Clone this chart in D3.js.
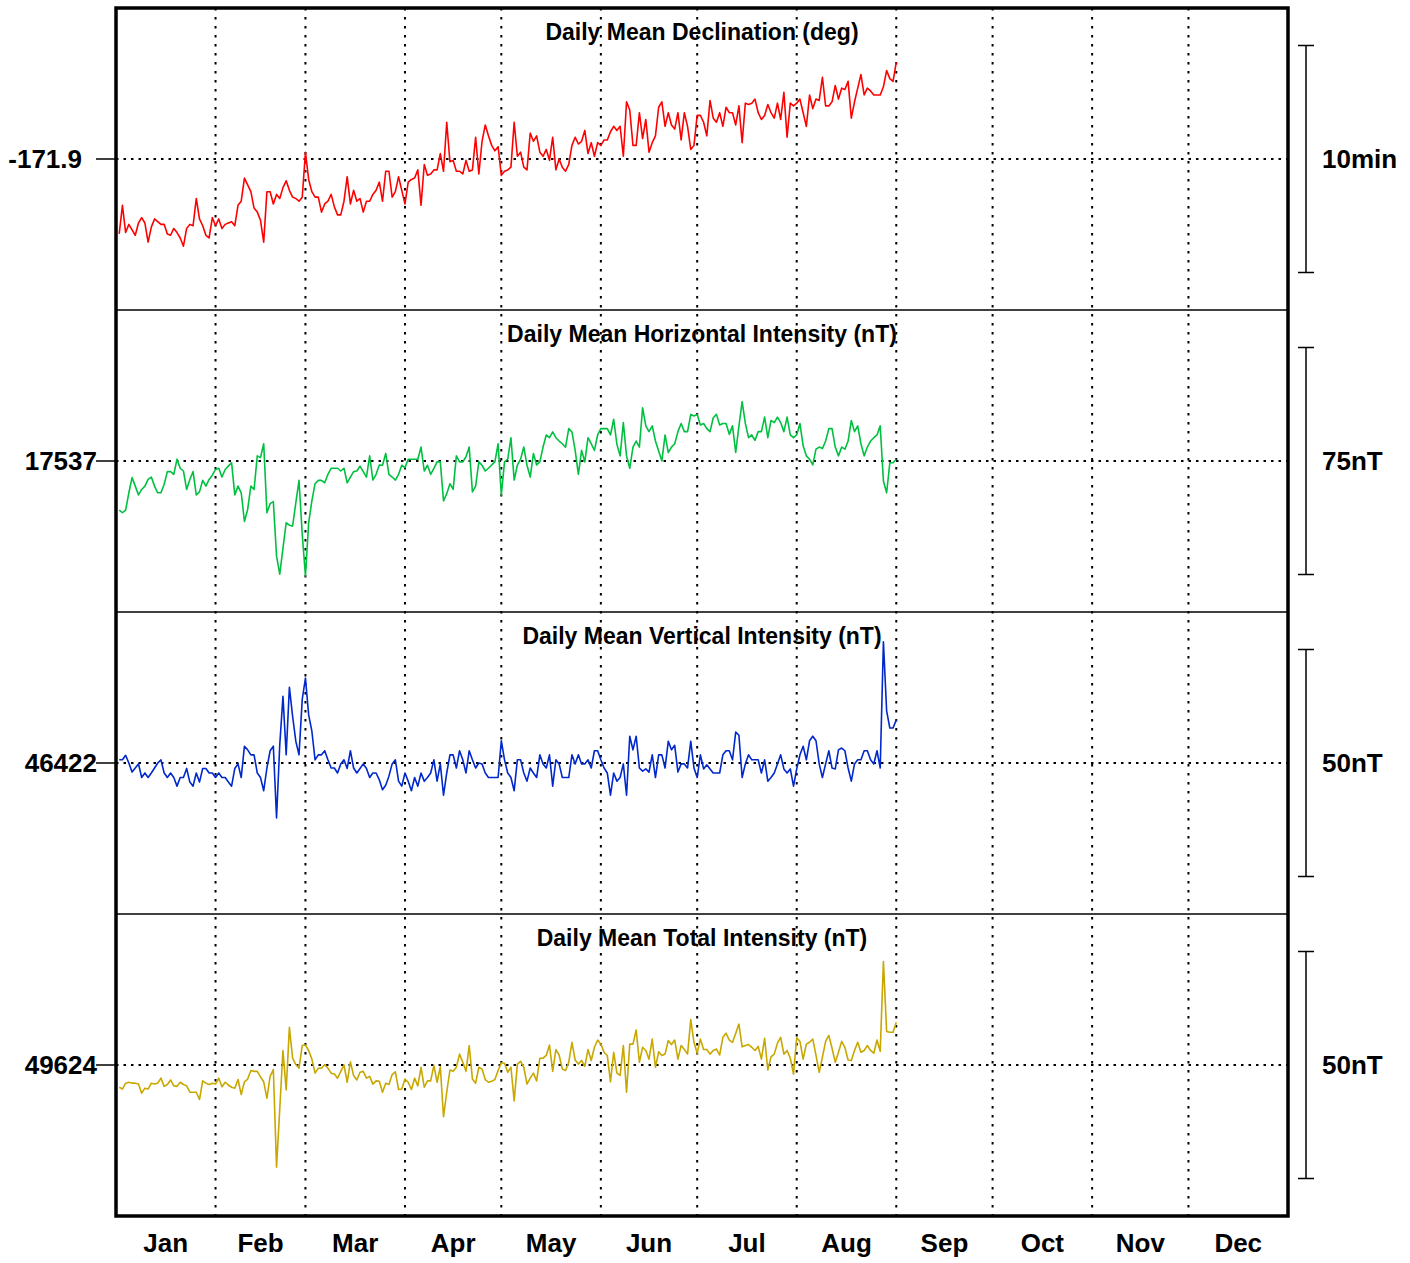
<!DOCTYPE html>
<html>
<head>
<meta charset="utf-8">
<title>Daily mean magnetic field</title>
<script src="https://cdn.jsdelivr.net/npm/d3@7"></script>
<style>
  html, body { margin: 0; padding: 0; background: #fff; }
  svg { display: block; font-family: "Liberation Sans", Arial, sans-serif; font-weight: bold; }
</style>
</head>
<body>
<svg id="chart" width="1410" height="1263"></svg>
<script>
// day of year for each daily mean (Jan 1 .. Aug 31)
const days = d3.range(1, 244);

const monthNames = ["Jan", "Feb", "Mar", "Apr", "May", "Jun", "Jul", "Aug", "Sep", "Oct", "Nov", "Dec"];
const monthStarts = [0, 31, 59, 90, 120, 151, 181, 212, 243, 273, 304, 334, 365];

// declination, degrees
const declination = [
  -171.955, -171.934, -171.954, -171.948, -171.952, -171.956, -171.947, -171.943, -171.947, -171.961,
  -171.950, -171.944, -171.946, -171.948, -171.948, -171.955, -171.956, -171.951, -171.954, -171.958,
  -171.964, -171.951, -171.948, -171.949, -171.929, -171.944, -171.949, -171.956, -171.958, -171.943,
  -171.949, -171.944, -171.951, -171.948, -171.947, -171.946, -171.949, -171.934, -171.931, -171.914,
  -171.919, -171.924, -171.936, -171.939, -171.945, -171.961, -171.924, -171.924, -171.933, -171.926,
  -171.929, -171.921, -171.916, -171.923, -171.928, -171.929, -171.931, -171.928, -171.895, -171.915,
  -171.924, -171.928, -171.928, -171.939, -171.933, -171.931, -171.926, -171.935, -171.941, -171.941,
  -171.931, -171.913, -171.933, -171.923, -171.931, -171.929, -171.939, -171.931, -171.931, -171.926,
  -171.923, -171.917, -171.931, -171.909, -171.909, -171.928, -171.924, -171.913, -171.923, -171.933,
  -171.917, -171.915, -171.914, -171.908, -171.934, -171.904, -171.912, -171.911, -171.908, -171.908,
  -171.896, -171.909, -171.873, -171.902, -171.901, -171.909, -171.909, -171.911, -171.901, -171.909,
  -171.908, -171.884, -171.911, -171.887, -171.875, -171.883, -171.890, -171.894, -171.891, -171.912,
  -171.909, -171.908, -171.906, -171.873, -171.898, -171.895, -171.906, -171.908, -171.881, -171.887,
  -171.883, -171.895, -171.898, -171.893, -171.901, -171.884, -171.908, -171.900, -171.906, -171.909,
  -171.904, -171.890, -171.884, -171.889, -171.887, -171.879, -171.896, -171.888, -171.898, -171.888,
  -171.890, -171.886, -171.886, -171.880, -171.876, -171.879, -171.876, -171.898, -171.858, -171.864,
  -171.890, -171.890, -171.866, -171.885, -171.871, -171.895, -171.888, -171.883, -171.862, -171.858,
  -171.876, -171.866, -171.875, -171.878, -171.866, -171.886, -171.866, -171.876, -171.893, -171.890,
  -171.868, -171.868, -171.873, -171.883, -171.857, -171.870, -171.873, -171.866, -171.876, -171.862,
  -171.866, -171.866, -171.875, -171.861, -171.888, -171.859, -171.860, -171.859, -171.856, -171.866,
  -171.871, -171.868, -171.860, -171.866, -171.870, -171.859, -171.871, -171.851, -171.884, -171.859,
  -171.861, -171.859, -171.856, -171.866, -171.876, -171.853, -171.863, -171.856, -171.857, -171.840,
  -171.861, -171.861, -171.858, -171.846, -171.856, -171.848, -171.849, -171.843, -171.870, -171.858,
  -171.848, -171.838, -171.853, -171.848, -171.850, -171.853, -171.853, -171.853, -171.847, -171.835,
  -171.841, -171.843, -171.829
];

// horizontal intensity, nT
const horizontal = [
  17520.8, 17519.9, 17520.8, 17526.5, 17531.5, 17528.7, 17525.8, 17527.6, 17528.7, 17530.9,
  17531.7, 17528.7, 17526.5, 17526.5, 17529.3, 17533.5, 17533.5, 17532.6, 17537.6, 17534.6,
  17533.7, 17527.6, 17530.9, 17533.5, 17525.8, 17526.8, 17530.6, 17528.7, 17530.9, 17532.3,
  17534.2, 17534.6, 17531.7, 17534.2, 17535.3, 17536.4, 17525.8, 17528.7, 17526.5, 17517.0,
  17521.0, 17528.7, 17527.6, 17538.7, 17538.1, 17542.7, 17519.9, 17522.9, 17523.6, 17505.6,
  17499.6, 17508.2, 17516.6, 17515.8, 17515.5, 17523.2, 17530.6, 17512.8, 17499.0, 17516.6,
  17523.8, 17529.5, 17530.6, 17530.6, 17529.8, 17532.6, 17534.6, 17534.6, 17534.6, 17533.7,
  17534.6, 17529.8, 17531.7, 17533.5, 17533.7, 17535.3, 17533.5, 17531.7, 17538.7, 17530.7,
  17532.6, 17535.7, 17535.6, 17539.5, 17532.6, 17531.7, 17530.7, 17532.6, 17535.6, 17534.8,
  17537.6, 17537.6, 17537.6, 17537.6, 17541.6, 17533.7, 17535.6, 17532.6, 17534.6, 17536.7,
  17536.7, 17523.8, 17526.2, 17529.5, 17527.6, 17538.7, 17536.7, 17536.7, 17538.4, 17541.6,
  17526.8, 17528.7, 17536.7, 17535.6, 17533.7, 17534.6, 17535.7, 17536.7, 17542.7, 17525.8,
  17536.7, 17537.6, 17544.7, 17530.7, 17535.6, 17537.6, 17541.6, 17535.6, 17531.7, 17539.5,
  17535.7, 17536.7, 17541.6, 17545.6, 17544.7, 17546.6, 17544.7, 17543.6, 17542.7, 17541.6,
  17547.7, 17546.6, 17540.5, 17532.6, 17540.5, 17536.7, 17544.7, 17542.7, 17540.5, 17545.6,
  17547.7, 17547.7, 17547.7, 17545.6, 17550.8, 17542.5, 17538.7, 17549.7, 17538.7, 17534.6,
  17541.6, 17543.6, 17541.6, 17554.6, 17548.6, 17546.7, 17548.6, 17543.6, 17540.3, 17537.0,
  17545.6, 17539.8, 17541.6, 17542.7, 17546.7, 17549.4, 17546.7, 17546.7, 17552.4, 17551.9,
  17552.4, 17548.9, 17549.4, 17547.7, 17546.7, 17551.3, 17552.4, 17548.9, 17549.4, 17549.4,
  17545.8, 17548.6, 17539.8, 17548.6, 17556.6, 17549.4, 17544.7, 17545.6, 17543.8, 17546.7,
  17546.7, 17551.5, 17544.7, 17550.4, 17549.7, 17551.5, 17549.7, 17546.7, 17551.5, 17545.6,
  17544.7, 17545.6, 17549.4, 17542.0, 17538.7, 17537.6, 17535.7, 17540.9, 17541.6, 17541.1,
  17543.6, 17547.7, 17547.7, 17541.6, 17538.7, 17541.6, 17540.9, 17543.6, 17550.4, 17546.7,
  17548.6, 17542.7, 17538.7, 17541.6, 17543.6, 17544.7, 17545.6, 17548.6, 17530.4, 17526.5,
  17536.4, 17536.4, 17537.6
];

// vertical intensity, nT
const vertical = [
  46422.7, 46422.7, 46423.7, 46422.0, 46420.0, 46420.9, 46421.8, 46418.8, 46419.8, 46418.8,
  46419.8, 46420.9, 46422.0, 46422.7, 46419.8, 46418.8, 46419.8, 46418.8, 46416.9, 46418.8,
  46418.8, 46420.8, 46417.8, 46416.9, 46419.8, 46417.8, 46420.8, 46420.8, 46419.8, 46419.8,
  46418.8, 46419.8, 46418.8, 46418.8, 46417.8, 46416.9, 46420.8, 46421.8, 46418.8, 46425.7,
  46424.9, 46423.8, 46423.8, 46419.8, 46418.8, 46415.9, 46420.9, 46424.7, 46425.7, 46409.9,
  46426.0, 46436.7, 46423.8, 46438.7, 46432.3, 46426.8, 46423.8, 46436.0, 46440.7, 46432.6,
  46429.0, 46422.7, 46423.8, 46423.8, 46424.7, 46422.7, 46420.9, 46420.9, 46419.8, 46421.8,
  46422.7, 46420.8, 46424.7, 46420.9, 46419.8, 46420.8, 46421.8, 46420.8, 46418.8, 46419.8,
  46419.8, 46418.3, 46416.1, 46417.1, 46419.1, 46421.8, 46422.7, 46418.0, 46416.9, 46419.8,
  46418.0, 46415.9, 46418.8, 46416.9, 46419.8, 46418.0, 46418.8, 46419.8, 46422.7, 46418.0,
  46421.8, 46414.9, 46419.8, 46423.8, 46423.8, 46420.9, 46424.7, 46422.7, 46419.8, 46424.7,
  46422.7, 46420.9, 46422.0, 46421.8, 46419.8, 46418.8, 46418.8, 46418.8, 46418.8, 46426.9,
  46422.7, 46419.8, 46418.8, 46415.9, 46422.7, 46422.7, 46419.8, 46418.0, 46420.9, 46419.8,
  46418.8, 46423.8, 46421.8, 46420.9, 46423.8, 46416.9, 46422.7, 46421.8, 46418.8, 46418.8,
  46418.8, 46423.8, 46421.8, 46423.8, 46421.8, 46421.8, 46422.7, 46420.9, 46424.7, 46424.7,
  46422.7, 46420.9, 46419.8, 46414.9, 46419.8, 46418.0, 46418.8, 46421.8, 46414.9, 46427.9,
  46424.9, 46427.9, 46420.9, 46420.2, 46420.7, 46420.0, 46423.8, 46418.8, 46423.8, 46423.8,
  46420.9, 46426.8, 46424.9, 46425.9, 46420.0, 46421.8, 46421.8, 46420.9, 46426.8, 46420.9,
  46418.8, 46423.8, 46420.7, 46421.6, 46420.7, 46419.8, 46419.8, 46419.8, 46423.8, 46424.7,
  46424.7, 46422.7, 46428.8, 46428.1, 46418.8, 46421.8, 46423.8, 46422.7, 46422.7, 46422.7,
  46419.8, 46422.7, 46418.0, 46418.8, 46419.8, 46421.8, 46423.8, 46420.7, 46419.8, 46420.7,
  46416.9, 46420.7, 46423.8, 46425.7, 46422.7, 46426.9, 46427.9, 46426.9, 46421.8, 46418.8,
  46421.8, 46424.7, 46420.9, 46420.7, 46424.9, 46425.3, 46424.7, 46420.9, 46418.0, 46421.8,
  46422.7, 46422.7, 46424.7, 46424.7, 46422.7, 46421.8, 46424.7, 46420.9, 46448.7, 46433.5,
  46429.7, 46429.7, 46431.5
];

// total intensity, nT
const total = [
  49619.1, 49618.7, 49620.0, 49620.2, 49620.0, 49620.0, 49619.8, 49617.8, 49618.9, 49618.7,
  49620.0, 49619.8, 49620.0, 49621.1, 49619.3, 49619.7, 49620.7, 49619.4, 49619.3, 49620.2,
  49619.7, 49619.4, 49618.0, 49618.0, 49618.0, 49616.4, 49620.5, 49620.0, 49619.7, 49620.0,
  49619.8, 49621.1, 49619.2, 49620.2, 49619.6, 49619.1, 49618.9, 49620.8, 49617.5, 49620.3,
  49620.9, 49622.8, 49622.6, 49622.6, 49621.4, 49620.3, 49616.7, 49621.5, 49623.0, 49601.5,
  49614.3, 49627.2, 49618.5, 49632.3, 49625.5, 49624.1, 49623.3, 49628.3, 49628.4, 49627.2,
  49625.3, 49622.2, 49623.3, 49623.3, 49624.1, 49623.3, 49622.2, 49622.0, 49621.1, 49622.6,
  49624.0, 49620.2, 49624.7, 49621.7, 49620.7, 49622.4, 49622.6, 49621.1, 49621.5, 49619.8,
  49620.5, 49620.4, 49618.0, 49620.0, 49619.7, 49621.9, 49622.5, 49618.6, 49618.7, 49620.9,
  49620.2, 49618.6, 49621.1, 49619.4, 49623.5, 49619.1, 49620.5, 49620.5, 49623.9, 49620.2,
  49623.6, 49612.6, 49618.0, 49622.9, 49622.6, 49623.5, 49626.4, 49624.6, 49622.6, 49628.3,
  49620.9, 49620.0, 49623.5, 49623.1, 49620.8, 49620.2, 49620.4, 49620.8, 49622.8, 49624.5,
  49624.4, 49622.4, 49623.5, 49616.1, 49624.2, 49624.8, 49623.5, 49619.8, 49621.1, 49622.2,
  49620.5, 49625.5, 49625.5, 49626.1, 49628.4, 49622.6, 49627.4, 49626.2, 49623.1, 49622.8,
  49624.6, 49629.0, 49625.1, 49624.2, 49625.0, 49623.7, 49627.4, 49625.0, 49627.9, 49629.5,
  49628.6, 49626.8, 49626.1, 49620.3, 49626.8, 49622.2, 49621.7, 49628.3, 49618.0, 49628.6,
  49628.6, 49631.7, 49624.6, 49627.9, 49627.2, 49625.3, 49629.7, 49623.5, 49626.9, 49626.1,
  49626.4, 49629.4, 49628.5, 49629.5, 49625.3, 49628.3, 49627.4, 49626.4, 49634.0, 49629.0,
  49626.6, 49629.7, 49627.4, 49627.4, 49626.4, 49627.2, 49627.5, 49626.2, 49630.1, 49631.0,
  49629.5, 49629.0, 49631.0, 49633.0, 49628.0, 49628.3, 49628.5, 49627.9, 49627.2, 49628.1,
  49625.3, 49629.9, 49622.9, 49625.8, 49626.4, 49628.8, 49630.1, 49626.4, 49627.2, 49625.5,
  49622.0, 49630.0, 49629.2, 49625.3, 49628.6, 49629.0, 49629.7, 49626.1, 49622.4, 49625.7,
  49629.2, 49630.5, 49627.7, 49624.6, 49626.8, 49629.2, 49627.9, 49625.1, 49625.0, 49627.2,
  49629.0, 49626.8, 49627.2, 49628.3, 49627.2, 49626.6, 49629.5, 49627.0, 49646.8, 49631.4,
  49631.2, 49631.2, 49633.4
];

// per panel: title, centre value (left label), scale bar length in data units and its label
const panelTitles = ["Daily Mean Declination (deg)", "Daily Mean Horizontal Intensity (nT)",
                     "Daily Mean Vertical Intensity (nT)", "Daily Mean Total Intensity (nT)"];
const baselines = [-171.9, 17537, 46422, 49624];
const baselineLabels = ["-171.9", "17537", "46422", "49624"];
const barSizes = [10 / 60, 75, 50, 50];
const barLabels = ["10min", "75nT", "50nT", "50nT"];
const colors = ["#ff0000", "#00c040", "#0028cc", "#c8a800"];
const series = [declination, horizontal, vertical, total];

const svg = d3.select("#chart");
const plotLeft = 116, plotRight = 1288, plotTop = 8, panelH = 302;
const plotBottom = plotTop + panelH * 4;
const barHalf = 113.5;

const x = d3.scaleLinear().domain([0, 365]).range([plotLeft, plotRight]);

// vertical month grid lines
svg.append("g")
  .selectAll("line")
  .data(monthStarts.slice(1, -1))
  .join("line")
  .attr("x1", d => x(d)).attr("x2", d => x(d))
  .attr("y1", plotTop).attr("y2", plotBottom)
  .attr("stroke", "#000")
  .attr("stroke-width", 2)
  .attr("stroke-dasharray", "2.5,6.5");

series.forEach((vals, i) => {
  const y0 = plotTop + panelH * i;
  const cy = y0 + panelH / 2;
  const y = d3.scaleLinear()
    .domain([baselines[i] - barSizes[i] / 2, baselines[i] + barSizes[i] / 2])
    .range([cy + barHalf, cy - barHalf]);

  const g = svg.append("g");

  // panel separator
  if (i > 0) {
    g.append("line")
      .attr("x1", plotLeft).attr("x2", plotRight)
      .attr("y1", y0).attr("y2", y0)
      .attr("stroke", "#000").attr("stroke-width", 1.5);
  }

  // centre reference line
  g.append("line")
    .attr("x1", plotLeft).attr("x2", plotRight)
    .attr("y1", y(baselines[i])).attr("y2", y(baselines[i]))
    .attr("stroke", "#000").attr("stroke-width", 2)
    .attr("stroke-dasharray", "2.5,5");
  g.append("line")
    .attr("x1", plotLeft - 20).attr("x2", plotLeft)
    .attr("y1", y(baselines[i])).attr("y2", y(baselines[i]))
    .attr("stroke", "#000").attr("stroke-width", 1.5);

  g.append("text")
    .attr("x", i === 0 ? 82 : 97)
    .attr("y", y(baselines[i]))
    .attr("text-anchor", "end")
    .attr("dominant-baseline", "central")
    .attr("font-size", 26)
    .text(baselineLabels[i]);

  // data line
  g.append("path")
    .datum(days)
    .attr("fill", "none")
    .attr("stroke", colors[i])
    .attr("stroke-width", 1.6)
    .attr("stroke-linejoin", "round")
    .attr("d", d3.line().x(d => x(d)).y((d, k) => y(vals[k])));

  // panel title
  g.append("text")
    .attr("x", (plotLeft + plotRight) / 2)
    .attr("y", y0 + 24)
    .attr("text-anchor", "middle")
    .attr("dominant-baseline", "central")
    .attr("font-size", 23)
    .text(panelTitles[i]);

  // scale bar on the right
  const bx = 1306;
  const yTop = y(baselines[i] + barSizes[i] / 2), yBot = y(baselines[i] - barSizes[i] / 2);
  g.append("line").attr("x1", bx).attr("x2", bx).attr("y1", yTop).attr("y2", yBot)
    .attr("stroke", "#000").attr("stroke-width", 1.5);
  [yTop, yBot].forEach(yy => {
    g.append("line").attr("x1", bx - 8).attr("x2", bx + 8).attr("y1", yy).attr("y2", yy)
      .attr("stroke", "#000").attr("stroke-width", 1.5);
  });
  g.append("text")
    .attr("x", 1322)
    .attr("y", y(baselines[i]))
    .attr("dominant-baseline", "central")
    .attr("font-size", 26)
    .text(barLabels[i]);
});

// month names under the plot
svg.append("g")
  .selectAll("text")
  .data(monthNames)
  .join("text")
  .attr("x", (d, k) => x((monthStarts[k] + monthStarts[k + 1]) / 2))
  .attr("y", plotBottom + 27)
  .attr("text-anchor", "middle")
  .attr("dominant-baseline", "central")
  .attr("font-size", 26)
  .text(d => d);

// outer frame
svg.append("rect")
  .attr("x", plotLeft).attr("y", plotTop)
  .attr("width", plotRight - plotLeft).attr("height", plotBottom - plotTop)
  .attr("fill", "none")
  .attr("stroke", "#000")
  .attr("stroke-width", 3.5);
</script>
</body>
</html>
